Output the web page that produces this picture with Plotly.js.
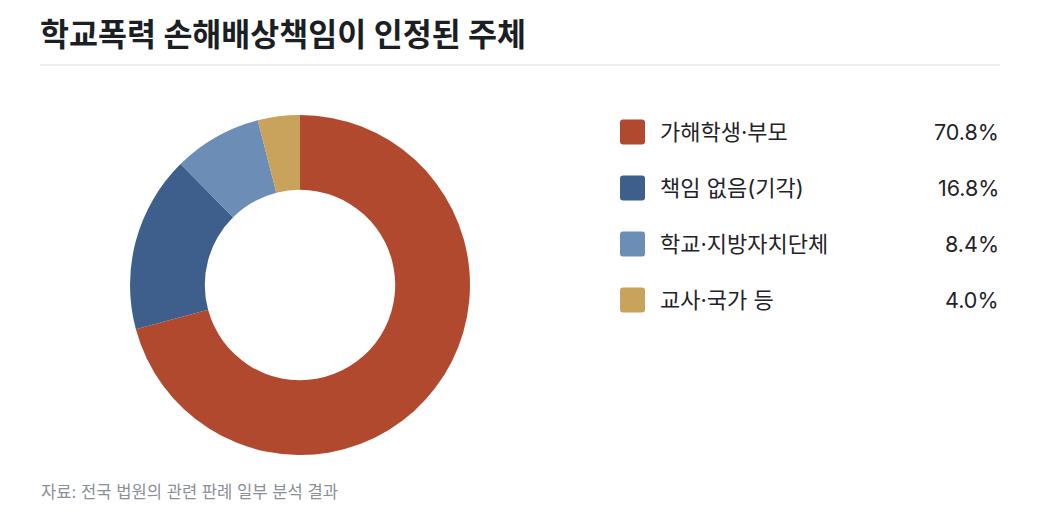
<!DOCTYPE html>
<html>
<head>
<meta charset="utf-8">
<script src="https://cdn.plot.ly/plotly-3.0.1.min.js"></script>
<style>
  html, body { margin: 0; padding: 0; background: #fff; }
  #chart { width: 1040px; height: 525px; }
</style>
</head>
<body>
<div id="chart"></div>
<script>
const labels = ["가해학생·부모", "책임 없음(기각)", "학교·지방자치단체", "교사·국가 등"];
const shares = [70.8, 16.8, 8.4, 4.0];
const colors = ["#B0492E", "#3E5F8B", "#6C8DB5", "#C9A25B"];

const font = 'Inter, "Noto Sans CJK KR", "Noto Sans", sans-serif';
const W = 1040, H = 525;

// pixel -> paper helpers
function px(x) { return x / W; }
function py(y) { return 1 - y / H; }

const trace = {
  type: "pie",
  labels: labels,
  values: shares,
  marker: { colors: colors, line: { width: 0 } },
  hole: 0.56,
  sort: false,
  direction: "clockwise",
  rotation: 0,
  textinfo: "none",
  hoverinfo: "label+percent",
  showlegend: false,
  domain: { x: [px(130), px(470)], y: [py(455), py(115)] }
};

const shapes = [
  { type: "line", xref: "paper", yref: "paper",
    x0: px(40), x1: px(1000), y0: py(65), y1: py(65),
    line: { color: "#E5E7EB", width: 1.5 } }
];
const annotations = [
  { xref: "paper", yref: "paper", x: px(38), y: py(34), xanchor: "left", yanchor: "middle",
    text: "<b>학교폭력 손해배상책임이 인정된 주체</b>", showarrow: false,
    font: { family: font, size: 31.5, color: "#1B1F24" } },
  { xref: "paper", yref: "paper", x: px(39), y: py(492), xanchor: "left", yanchor: "middle",
    text: "자료: 전국 법원의 관련 판례 일부 분석 결과", showarrow: false,
    font: { family: font, size: 16.6, color: "#8A8F98" } }
];

// custom legend rows
const rowY0 = 132, rowGap = 56;
labels.forEach(function (lab, i) {
  const cy = rowY0 + i * rowGap;
  const x0 = 620, x1 = 645, y0 = cy - 12.5, y1 = cy + 12.5, r = 3;
  shapes.push({
    type: "path", xref: "paper", yref: "paper",
    path: "M " + px(x0 + r) + " " + py(y0) +
          " L " + px(x1 - r) + " " + py(y0) +
          " Q " + px(x1) + " " + py(y0) + " " + px(x1) + " " + py(y0 + r) +
          " L " + px(x1) + " " + py(y1 - r) +
          " Q " + px(x1) + " " + py(y1) + " " + px(x1 - r) + " " + py(y1) +
          " L " + px(x0 + r) + " " + py(y1) +
          " Q " + px(x0) + " " + py(y1) + " " + px(x0) + " " + py(y1 - r) +
          " L " + px(x0) + " " + py(y0 + r) +
          " Q " + px(x0) + " " + py(y0) + " " + px(x0 + r) + " " + py(y0) + " Z",
    fillcolor: colors[i], line: { width: 0 }
  });
  annotations.push({
    xref: "paper", yref: "paper", x: px(658), y: py(cy), xanchor: "left", yanchor: "middle",
    text: lab, showarrow: false, font: { family: font, size: 22, color: "#1F2329" }
  });
  annotations.push({
    xref: "paper", yref: "paper", x: px(1001), y: py(cy), xanchor: "right", yanchor: "middle",
    text: shares[i].toFixed(1) + "%", showarrow: false,
    font: { family: font, size: 21.5, color: "#1F2329" }
  });
});

const layout = {
  width: W, height: H,
  margin: { l: 0, r: 0, t: 0, b: 0 },
  paper_bgcolor: "#FFFFFF",
  plot_bgcolor: "#FFFFFF",
  shapes: shapes,
  annotations: annotations,
  font: { family: font }
};

Plotly.newPlot("chart", [trace], layout, { displayModeBar: false });
</script>
</body>
</html>
